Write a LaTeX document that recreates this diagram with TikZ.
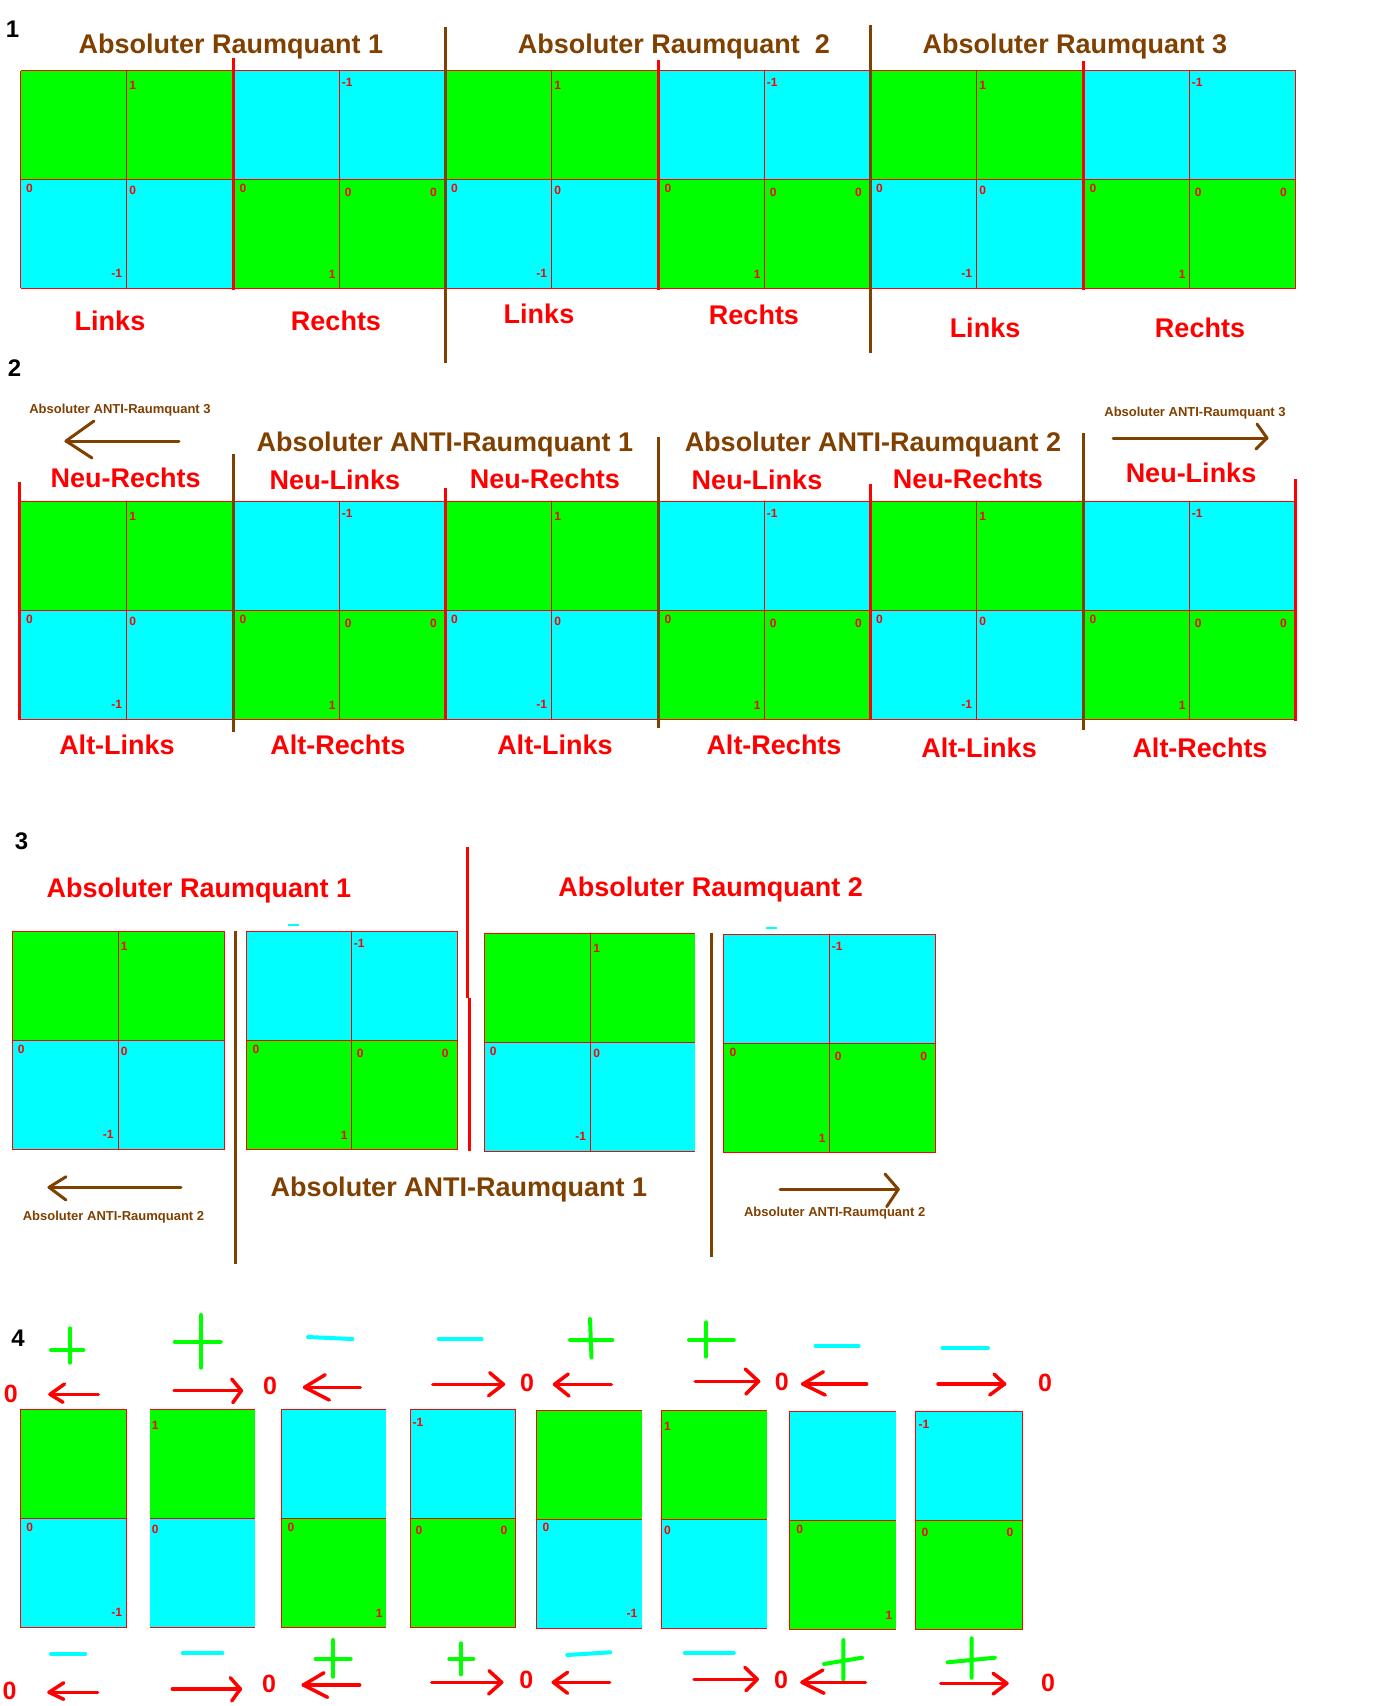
\documentclass[tikz,border=0pt]{standalone}
\usepackage{fontspec}
\setmainfont{Liberation Sans}
\definecolor{pgreen}{RGB}{0,255,0}
\definecolor{pcyan}{RGB}{0,255,255}
\definecolor{pred}{RGB}{255,0,0}
\definecolor{pbrown}{RGB}{128,64,0}
\tikzset{
 gridln/.style={draw=pred, line width=1pt},
 thickred/.style={draw=pred, line width=3pt},
 brownln/.style={draw=pbrown, line width=3pt},
 numtxt/.style={text=pred, font=\bfseries\fontsize{12}{12}\selectfont, inner sep=0pt, anchor=center},
 hdtxt/.style={text=black, font=\bfseries\fontsize{24}{24}\selectfont, inner sep=0pt, anchor=base},
 ttltxt/.style={text=pbrown, font=\bfseries\fontsize{27}{27}\selectfont, inner sep=0pt, anchor=base},
 lbltxt/.style={text=pred, font=\bfseries\fontsize{27}{27}\selectfont, inner sep=0pt, anchor=base},
 smalltxt/.style={text=pbrown, font=\bfseries\fontsize{13}{13}\selectfont, inner sep=0pt, anchor=base},
 zerotxt/.style={text=pred, font=\bfseries\fontsize{25}{25}\selectfont, inner sep=0pt, anchor=center},
 rarr/.style={draw=pred, line width=3.5pt, line cap=round, line join=round},
 barr/.style={draw=pbrown, line width=3pt, line cap=round, line join=round},
 plusln/.style={draw=pgreen, line width=4pt, line cap=round},
 minusln/.style={draw=pcyan, line width=4pt, line cap=round},
}
% numbers for a green-top panel: L M R T Y B name
\newcommand\NumG[7]{%
  \node[numtxt] (#7a) at ({#2+6},{#4+15}) {1};
  \node[numtxt] (#7b) at ({#1+9},{#5+9}) {0};
  \node[numtxt] (#7c) at ({#2+6},{#5+11}) {0};
  \node[numtxt] (#7d) at ({#2-10},{#6-15}) {-1};}
% numbers for a cyan-top panel
\newcommand\NumC[7]{%
  \node[numtxt] (#7a) at ({#2+8},{#4+12}) {-1};
  \node[numtxt] (#7b) at ({#1+10},{#5+9}) {0};
  \node[numtxt] (#7c) at ({#2+9},{#5+13}) {0};
  \node[numtxt] (#7d) at ({#3-12},{#5+13}) {0};
  \node[numtxt] (#7e) at ({#2-7},{#6-14}) {1};}
% filled two-colour panel: L R T Y B top bottom
\newcommand\Pnl[7]{%
  \fill[#6] (#1,#3) rectangle (#2,#4);
  \fill[#7] (#1,#4) rectangle (#2,#5);}
\begin{document}
\begin{tikzpicture}[x=1pt,y=-1pt]
\useasboundingbox[fill=white] (0,0) rectangle (1386,1706);

%================ SECTION 1 ================
\node[hdtxt] (h1) at (12.5,37) {1};
\foreach \i in {0,...,5}{
  \pgfmathsetmacro\L{20.5+212.5*\i}
  \pgfmathsetmacro\R{\L+212.5}
  \pgfmathsetmacro\M{\L+106.25}
  \ifodd\i
    \Pnl{\L}{\R}{70.7}{179.5}{288.3}{pcyan}{pgreen}
    \NumC{\L}{\M}{\R}{70.7}{179.5}{288.3}{sa\i}
  \else
    \Pnl{\L}{\R}{70.7}{179.5}{288.3}{pgreen}{pcyan}
    \NumG{\L}{\M}{\R}{70.7}{179.5}{288.3}{sa\i}
  \fi
}
\foreach \yy in {70.7,179.5,288.3} \draw[gridln] (20.5,\yy) -- (1295.5,\yy);
\foreach \k in {0,...,12} \draw[gridln] ({20.5+106.25*\k},70.7) -- ({20.5+106.25*\k},288.3);
\draw[thickred] (233,58) -- (233,290);
\draw[thickred] (658,60) -- (658,290);
\draw[thickred] (1083,61) -- (1083,290);
\draw[brownln] (445.5,27) -- (445.5,363);
\draw[brownln] (870.5,25) -- (870.5,353);
\node[ttltxt] (t11) at (231,53.3) {Absoluter Raumquant 1};
\node[ttltxt] (t12) at (674,53.5) {Absoluter Raumquant\ \ 2};
\node[ttltxt] (t13) at (1075,53) {Absoluter Raumquant 3};
\node[lbltxt] (l11) at (110,330) {Links};
\node[lbltxt] (l12) at (336,330) {Rechts};
\node[lbltxt] (l13) at (539,323) {Links};
\node[lbltxt] (l14) at (754,324) {Rechts};
\node[lbltxt] (l15) at (985,337) {Links};
\node[lbltxt] (l16) at (1200,337) {Rechts};

%================ SECTION 2 ================
\node[hdtxt] (h2) at (14.5,376) {2};
\foreach \i in {0,...,5}{
  \pgfmathsetmacro\L{20.5+212.5*\i}
  \pgfmathsetmacro\R{\L+212.5}
  \pgfmathsetmacro\M{\L+106.25}
  \ifodd\i
    \Pnl{\L}{\R}{501.7}{610}{719.3}{pcyan}{pgreen}
    \NumC{\L}{\M}{\R}{501.7}{610}{719.3}{sb\i}
  \else
    \Pnl{\L}{\R}{501.7}{610}{719.3}{pgreen}{pcyan}
    \NumG{\L}{\M}{\R}{501.7}{610}{719.3}{sb\i}
  \fi
}
\foreach \yy in {501.7,610,719.3} \draw[gridln] (20.5,\yy) -- (1295.5,\yy);
\foreach \k in {0,...,12} \draw[gridln] ({20.5+106.25*\k},501.7) -- ({20.5+106.25*\k},719.3);
\draw[thickred] (19.5,482) -- (19.5,720);
\draw[brownln] (233,454) -- (233,732);
\draw[thickred] (445.5,488) -- (445.5,720);
\draw[brownln] (658,437) -- (658,728);
\draw[thickred] (870.5,484) -- (870.5,720);
\draw[brownln] (1083,433) -- (1083,730);
\draw[thickred] (1295.5,479) -- (1295.5,721);
\node[smalltxt] (a2l) at (120,413) {Absoluter ANTI-Raumquant 3};
\node[smalltxt] (a2r) at (1195,416) {Absoluter ANTI-Raumquant 3};
\coordinate (al1) at (179,441); \coordinate (al2) at (66,441);
\draw[barr] (al1) -- (al2);
\draw[barr] (94,421) -- (al2) -- (92,458);
\coordinate (ar1) at (1113,438); \coordinate (ar2) at (1267,438);
\draw[barr] (ar1) -- (ar2);
\draw[barr] (1257,424) -- (ar2) -- (1256,449);
\node[ttltxt] (t21) at (445,451.7) {Absoluter ANTI-Raumquant 1};
\node[ttltxt] (t22) at (873,451.7) {Absoluter ANTI-Raumquant 2};
\node[lbltxt] (n1) at (125.6,487) {Neu-Rechts};
\node[lbltxt] (n2) at (335,489) {Neu-Links};
\node[lbltxt] (n3) at (545,488) {Neu-Rechts};
\node[lbltxt] (n4) at (757,489) {Neu-Links};
\node[lbltxt] (n5) at (968,488) {Neu-Rechts};
\node[lbltxt] (n6) at (1191,482) {Neu-Links};
\node[lbltxt] (o1) at (117,754) {Alt-Links};
\node[lbltxt] (o2) at (338,754) {Alt-Rechts};
\node[lbltxt] (o3) at (555,754) {Alt-Links};
\node[lbltxt] (o4) at (774,754) {Alt-Rechts};
\node[lbltxt] (o5) at (979,757) {Alt-Links};
\node[lbltxt] (o6) at (1200,757) {Alt-Rechts};

%================ SECTION 3 ================
\node[hdtxt] (h3) at (21.5,849) {3};
\node[lbltxt] (t31) at (199,897) {Absoluter Raumquant 1};
\node[lbltxt] (t32) at (710.7,896) {Absoluter Raumquant 2};
% panel A
\Pnl{12.3}{224.3}{931.7}{1040.3}{1149.3}{pgreen}{pcyan}
\draw[gridln] (12.3,931.7) rectangle (224.3,1149.3);
\draw[gridln] (12.3,1040.3) -- (224.3,1040.3) (118.3,931.7) -- (118.3,1149.3);
\NumG{12.3}{118.3}{224.3}{931.7}{1040.3}{1149.3}{pa}
% panel B
\Pnl{246}{457.3}{931.7}{1040.3}{1149.3}{pcyan}{pgreen}
\draw[gridln] (246,931.7) rectangle (457.3,1149.3);
\draw[gridln] (246,1040.3) -- (457.3,1040.3) (351.3,931.7) -- (351.3,1149.3);
\NumC{246}{351.3}{457.3}{931.7}{1040.3}{1149.3}{pb}
% panel C
\Pnl{484.3}{695}{933.7}{1042.3}{1151.7}{pgreen}{pcyan}
\draw[gridln] (695,933.7) -- (484.3,933.7) -- (484.3,1151.7) -- (695,1151.7);
\draw[gridln] (484.3,1042.3) -- (695,1042.3) (590.7,933.7) -- (590.7,1151.7);
\NumG{484.3}{590.7}{695}{933.7}{1042.3}{1151.7}{pc}
% panel D
\Pnl{723}{935.7}{934.3}{1043}{1152.7}{pcyan}{pgreen}
\draw[gridln] (723,934.3) rectangle (935.7,1152.7);
\draw[gridln] (723,1043) -- (935.7,1043) (829.3,934.3) -- (829.3,1152.7);
\NumC{723}{829.3}{935.7}{934.3}{1043}{1152.7}{pd}
% dividers
\draw[thickred] (467.7,846.7) -- (467.7,998);
\draw[thickred] (469.3,998) -- (469.3,1151);
\draw[brownln] (235.3,930.7) -- (235.3,1264);
\draw[brownln] (711,933) -- (711,1256.7);
\draw[draw=pcyan, line width=2pt] (288,925) -- (299,925);
\draw[draw=pcyan, line width=2pt] (766,927.7) -- (777,927.7);
\node[ttltxt] (t33) at (459,1196.7) {Absoluter ANTI-Raumquant 1};
\node[smalltxt] (a3l) at (113.5,1220.7) {Absoluter ANTI-Raumquant 2};
\node[smalltxt] (a3r) at (834.7,1216) {Absoluter ANTI-Raumquant 2};
\coordinate (bl1) at (181,1187.3); \coordinate (bl2) at (49,1187.3);
\draw[barr] (bl1) -- (bl2);
\draw[barr] (66,1176.7) -- (bl2) -- (66,1200);
\coordinate (br1) at (780,1189.3); \coordinate (br2) at (898.3,1189.3);
\draw[barr] (br1) -- (br2);
\draw[barr] (885,1174) -- (br2) -- (886.7,1206.7);

%================ SECTION 4 ================
\node[hdtxt] (h4) at (18,1346) {4};
% panels
\Pnl{20.7}{126.6}{1409.3}{1518.3}{1627.3}{pgreen}{pcyan}
\Pnl{150.3}{255.2}{1409.3}{1518.3}{1627.3}{pgreen}{pcyan}
\Pnl{281}{386.2}{1409.3}{1518.3}{1627.3}{pcyan}{pgreen}
\Pnl{410}{515.9}{1409.3}{1518.3}{1627.3}{pcyan}{pgreen}
\Pnl{536.2}{642}{1410.3}{1519.3}{1628.3}{pgreen}{pcyan}
\Pnl{661.4}{767.2}{1410.3}{1519.3}{1628.3}{pgreen}{pcyan}
\Pnl{789.7}{895.5}{1411.3}{1520.3}{1629.3}{pcyan}{pgreen}
\Pnl{915.9}{1022}{1411.3}{1520.3}{1629.3}{pcyan}{pgreen}
% borders
\draw[gridln] (20.7,1409.3) rectangle (126.6,1627.3);
\draw[gridln] (150.3,1409.3) -- (255.2,1409.3) (150.3,1627.3) -- (255.2,1627.3);
\draw[gridln] (386.2,1409.3) -- (281,1409.3) -- (281,1627.3) -- (386.2,1627.3);
\draw[gridln] (410,1409.3) rectangle (515.9,1627.3);
\draw[gridln] (642,1410.3) -- (536.2,1410.3) -- (536.2,1628.3) -- (642,1628.3);
\draw[gridln] (767.2,1410.3) -- (661.4,1410.3) -- (661.4,1628.3) -- (767.2,1628.3);
\draw[gridln] (895.5,1411.3) -- (789.7,1411.3) -- (789.7,1629.3) -- (895.5,1629.3);
\draw[gridln] (915.9,1411.3) rectangle (1022,1629.3);
\foreach \a/\b/\yy in {20.7/126.6/1518.3,150.3/255.2/1518.3,281/386.2/1518.3,410/515.9/1518.3,
  536.2/642/1519.3,661.4/767.2/1519.3,789.7/895.5/1520.3,915.9/1022/1520.3}
  \draw[gridln] (\a,\yy) -- (\b,\yy);
% numbers
\node[numtxt] (q1a) at (29.7,1527.3) {0};
\node[numtxt] (q1b) at (116.6,1612.3) {-1};
\node[numtxt] (q2a) at (155.3,1425.3) {1};
\node[numtxt] (q2b) at (155.3,1529.3) {0};
\node[numtxt] (q3a) at (291,1527.3) {0};
\node[numtxt] (q3b) at (379.2,1613.3) {1};
\node[numtxt] (q4a) at (418,1422.3) {-1};
\node[numtxt] (q4b) at (419,1530.3) {0};
\node[numtxt] (q4c) at (503.9,1530.3) {0};
\node[numtxt] (q5a) at (546,1527.8) {0};
\node[numtxt] (q5b) at (632,1613.3) {-1};
\node[numtxt] (q6a) at (667.4,1426.3) {1};
\node[numtxt] (q6b) at (667.4,1530.3) {0};
\node[numtxt] (q7a) at (799.7,1529.3) {0};
\node[numtxt] (q7b) at (889,1615.3) {1};
\node[numtxt] (q8a) at (924,1424.3) {-1};
\node[numtxt] (q8b) at (925,1532.3) {0};
\node[numtxt] (q8c) at (1010,1532.3) {0};
% top row: plus / minus
\draw[plusln] (51,1350) -- (83.4,1350) (70,1328.3) -- (70,1362.7);
\draw[plusln] (174.8,1341.7) -- (220.7,1341.7) (201,1315) -- (201,1367.7);
\draw[minusln] (308,1337) -- (352.4,1339);
\draw[minusln] (438.6,1339) -- (481.7,1339);
\draw[plusln] (570,1340) -- (612.4,1340) (590,1319) -- (591.5,1357.3);
\draw[plusln] (689,1340) -- (733.8,1340) (706.2,1322.3) -- (706.2,1356.7);
\draw[minusln] (815.5,1345.7) -- (858.6,1345.7);
\draw[minusln] (942.4,1347.7) -- (988,1347.7);
% top row: arrows
\draw[rarr] (98.3,1394.3) -- (50,1394.3);   \draw[rarr] (64.5,1384) -- (50,1394.3) -- (63,1402.3);
\draw[rarr] (174,1390.7) -- (241.4,1390.7); \draw[rarr] (231.7,1379) -- (241.4,1390.7) -- (232.8,1402.7);
\draw[rarr] (360.3,1387.3) -- (304.5,1387.3); \draw[rarr] (325.2,1374.7) -- (304.5,1387.3) -- (329.3,1400);
\draw[rarr] (432.8,1384.3) -- (503.4,1384.3); \draw[rarr] (489.7,1372.7) -- (503.4,1384.3) -- (488.6,1395.7);
\draw[rarr] (611.4,1384.3) -- (554.5,1384.3); \draw[rarr] (568.3,1374) -- (554.5,1384.3) -- (569,1396);
\draw[rarr] (695.2,1381.3) -- (758.6,1381.3); \draw[rarr] (745.2,1369) -- (758.6,1381.3) -- (745.9,1394);
\draw[rarr] (866.6,1384) -- (802.8,1384); \draw[rarr] (823.4,1371.7) -- (802.8,1384) -- (825.2,1395);
\draw[rarr] (938,1384) -- (1004.5,1384); \draw[rarr] (994,1374) -- (1004.5,1384) -- (989.7,1395);
% top row: zeros
\node[zerotxt] (z1) at (10.8,1393.5) {0};
\node[zerotxt] (z2) at (270,1385.5) {0};
\node[zerotxt] (z3) at (527,1382.5) {0};
\node[zerotxt] (z4) at (781.7,1382) {0};
\node[zerotxt] (z5) at (1045,1383.3) {0};
% bottom row: plus / minus
\draw[minusln] (51,1654) -- (85.2,1654);
\draw[minusln] (182.8,1653.3) -- (222.4,1653.3);
\draw[plusln] (315.5,1658.7) -- (350.7,1658.7) (333,1640) -- (333,1676.7);
\draw[plusln] (449.3,1659) -- (473.4,1659) (461,1643.3) -- (461,1674.3);
\draw[minusln] (567.2,1655) -- (610.3,1652.3);
\draw[minusln] (684.8,1652.7) -- (733.8,1652.7);
\draw[plusln] (824,1664) -- (862,1657.7) (843.4,1640) -- (843.4,1680);
\draw[plusln] (947.6,1662.3) -- (994.8,1657.7) (971.7,1638.3) -- (971.7,1677.7);
% bottom row: arrows
\draw[rarr] (97.6,1692.3) -- (49,1692.3); \draw[rarr] (63.8,1682.7) -- (49,1692.3) -- (63.8,1699.3);
\draw[rarr] (172.4,1689) -- (240.3,1689); \draw[rarr] (230.3,1677.7) -- (240.3,1689) -- (231.7,1701);
\draw[rarr] (359.7,1685) -- (303.4,1685); \draw[rarr] (324,1672.7) -- (303.4,1685) -- (327.6,1697.3);
\draw[rarr] (431.7,1682.3) -- (501.7,1682.3); \draw[rarr] (489,1670.7) -- (501.7,1682.3) -- (488.6,1694);
\draw[rarr] (609.7,1682.3) -- (553.4,1682.3); \draw[rarr] (567.6,1672.3) -- (553.4,1682.3) -- (567.6,1693.3);
\draw[rarr] (694,1679.3) -- (757.2,1679.3); \draw[rarr] (744.8,1667.3) -- (757.2,1679.3) -- (745.9,1690.7);
\draw[rarr] (865.5,1682.3) -- (802,1682.3); \draw[rarr] (822.8,1670) -- (802,1682.3) -- (824.1,1693.3);
\draw[rarr] (940.7,1683.3) -- (1006.9,1683.3); \draw[rarr] (993.1,1673.3) -- (1006.9,1683.3) -- (993.1,1694);
% bottom row: zeros
\node[zerotxt] (y1) at (9.7,1690.5) {0};
\node[zerotxt] (y2) at (269,1683.7) {0};
\node[zerotxt] (y3) at (526.4,1680.3) {0};
\node[zerotxt] (y4) at (781,1680.3) {0};
\node[zerotxt] (y5) at (1048,1683) {0};
\end{tikzpicture}
\end{document}
